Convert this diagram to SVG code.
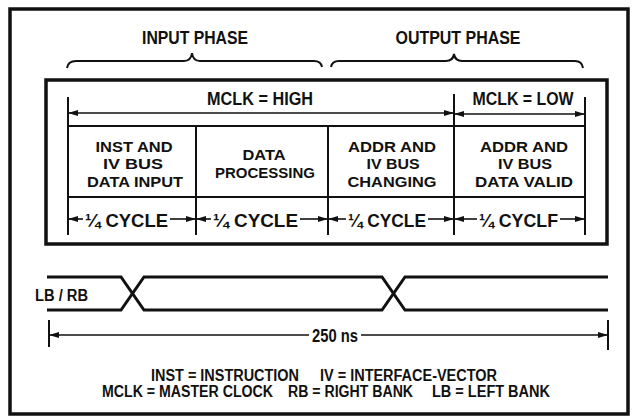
<svg xmlns="http://www.w3.org/2000/svg" width="636" height="419" viewBox="0 0 636 419">
<style>
text{font-family:"Liberation Sans",Arial,sans-serif;font-weight:bold;fill:#111;text-anchor:middle}
.h{font-size:19px}
.c{font-size:18px}
.t{font-size:15px}
.l{font-size:16px}
.box{fill:none;stroke:#111;stroke-width:3.5}
.ln{fill:none;stroke:#111;stroke-width:2}
.ar{fill:none;stroke:#111;stroke-width:1.6;marker-end:url(#ah)}
.sig{fill:none;stroke:#111;stroke-width:3}
</style>
<defs>
<marker id="ah" viewBox="0 0 10 6" refX="10" refY="3" markerWidth="10" markerHeight="6" markerUnits="userSpaceOnUse" orient="auto">
<path d="M0,0 L10,3 L0,6 Z" fill="#111"/>
</marker>
</defs>
<rect width="636" height="419" fill="#fff"/>
<rect id="frame" class="box" x="10" y="9" width="618" height="405"/>

<g id="input-phase">
<text class="h" x="195" y="44" textLength="106" lengthAdjust="spacingAndGlyphs">INPUT PHASE</text>
<path class="ln" d="M67,68 Q68,61 76,61 H184 Q191,61 192,53 Q193,61 200,61 H314 Q321,61 322,67"/>
</g>
<g id="output-phase">
<text class="h" x="458" y="44" textLength="125" lengthAdjust="spacingAndGlyphs">OUTPUT PHASE</text>
<path class="ln" d="M331,67 Q332,61 339,61 H446 Q453,61 454,54 Q455,61 462,61 H575 Q582,61 583,68"/>
</g>

<g id="cycle-table">
<rect class="box" x="46" y="80" width="561" height="164"/>
<path class="ln" d="M68,97 V235 M585,97 V235 M454,94 V235 M196,126 V235 M328,126 V235 M68,126 H585 M68,197 H585"/>
</g>

<g id="mclk-high">
<text class="h" x="260" y="105" textLength="106" lengthAdjust="spacingAndGlyphs">MCLK = HIGH</text>
</g>
<g id="mclk-low">
<text class="h" x="523" y="105" textLength="101" lengthAdjust="spacingAndGlyphs">MCLK = LOW</text>
</g>

<g id="cell-inst">
<text class="t" x="134" y="151.5" textLength="77" lengthAdjust="spacingAndGlyphs">INST AND</text>
<text class="t" x="133" y="169" textLength="60" lengthAdjust="spacingAndGlyphs">IV BUS</text>
<text class="t" x="135" y="186.5" textLength="96" lengthAdjust="spacingAndGlyphs">DATA INPUT</text>
<text class="c" x="126.5" y="227" textLength="83" lengthAdjust="spacingAndGlyphs">¼ CYCLE</text>
</g>
<g id="cell-processing">
<text class="t" x="264" y="160" textLength="43" lengthAdjust="spacingAndGlyphs">DATA</text>
<text class="t" x="265" y="177.5" textLength="100" lengthAdjust="spacingAndGlyphs">PROCESSING</text>
<text class="c" x="255.5" y="227" textLength="85" lengthAdjust="spacingAndGlyphs">¼ CYCLE</text>
</g>
<g id="cell-changing">
<text class="t" x="392" y="151.5" textLength="88" lengthAdjust="spacingAndGlyphs">ADDR AND</text>
<text class="t" x="393" y="169" textLength="53" lengthAdjust="spacingAndGlyphs">IV BUS</text>
<text class="t" x="392" y="186.5" textLength="89" lengthAdjust="spacingAndGlyphs">CHANGING</text>
<text class="c" x="387" y="227" textLength="78" lengthAdjust="spacingAndGlyphs">¼ CYCLE</text>
</g>
<g id="cell-valid">
<text class="t" x="524" y="151.5" textLength="88" lengthAdjust="spacingAndGlyphs">ADDR AND</text>
<text class="t" x="525" y="169" textLength="54" lengthAdjust="spacingAndGlyphs">IV BUS</text>
<text class="t" x="524" y="186.5" textLength="98" lengthAdjust="spacingAndGlyphs">DATA VALID</text>
<text class="c" x="518.5" y="227" textLength="79" lengthAdjust="spacingAndGlyphs">¼ CYCLF</text>
</g>

<g id="lb-rb">
<text class="l" x="61.5" y="301" textLength="53" lengthAdjust="spacingAndGlyphs">LB / RB</text>
<path class="sig" d="M47,277 H121 L144,310 H382 L405,277 H608"/>
<path class="sig" d="M47,310 H121 L144,277 H382 L405,310 H608"/>
</g>

<g id="period">
<text class="h" x="335" y="342" textLength="46" lengthAdjust="spacingAndGlyphs">250 ns</text>
<path class="ln" d="M49,320 V347 M608,320 V350"/>
</g>

<g id="legend">
<text class="l" x="225" y="381" textLength="148" lengthAdjust="spacingAndGlyphs">INST = INSTRUCTION</text>
<text class="l" x="408.5" y="381" textLength="177" lengthAdjust="spacingAndGlyphs">IV = INTERFACE-VECTOR</text>
<text class="l" x="187.5" y="397" textLength="171" lengthAdjust="spacingAndGlyphs">MCLK = MASTER CLOCK</text>
<text class="l" x="350.5" y="397" textLength="125" lengthAdjust="spacingAndGlyphs">RB = RIGHT BANK</text>
<text class="l" x="491" y="397" textLength="118" lengthAdjust="spacingAndGlyphs">LB = LEFT BANK</text>
</g>

<g id="connectors">
<path class="ar" d="M260,113 H68"/>
<path class="ar" d="M260,113 H454"/>
<path class="ar" d="M520,114 H454"/>
<path class="ar" d="M520,114 H585"/>
<path class="ar" d="M83,219 H68"/>
<path class="ar" d="M170,219 H196"/>
<path class="ar" d="M211,219 H196"/>
<path class="ar" d="M300,219 H328"/>
<path class="ar" d="M346,219 H328"/>
<path class="ar" d="M428,219 H454"/>
<path class="ar" d="M477,219 H454"/>
<path class="ar" d="M560,219 H585"/>
<path class="ar" d="M309,335 H49"/>
<path class="ar" d="M361,335 H608"/>
</g>
</svg>
